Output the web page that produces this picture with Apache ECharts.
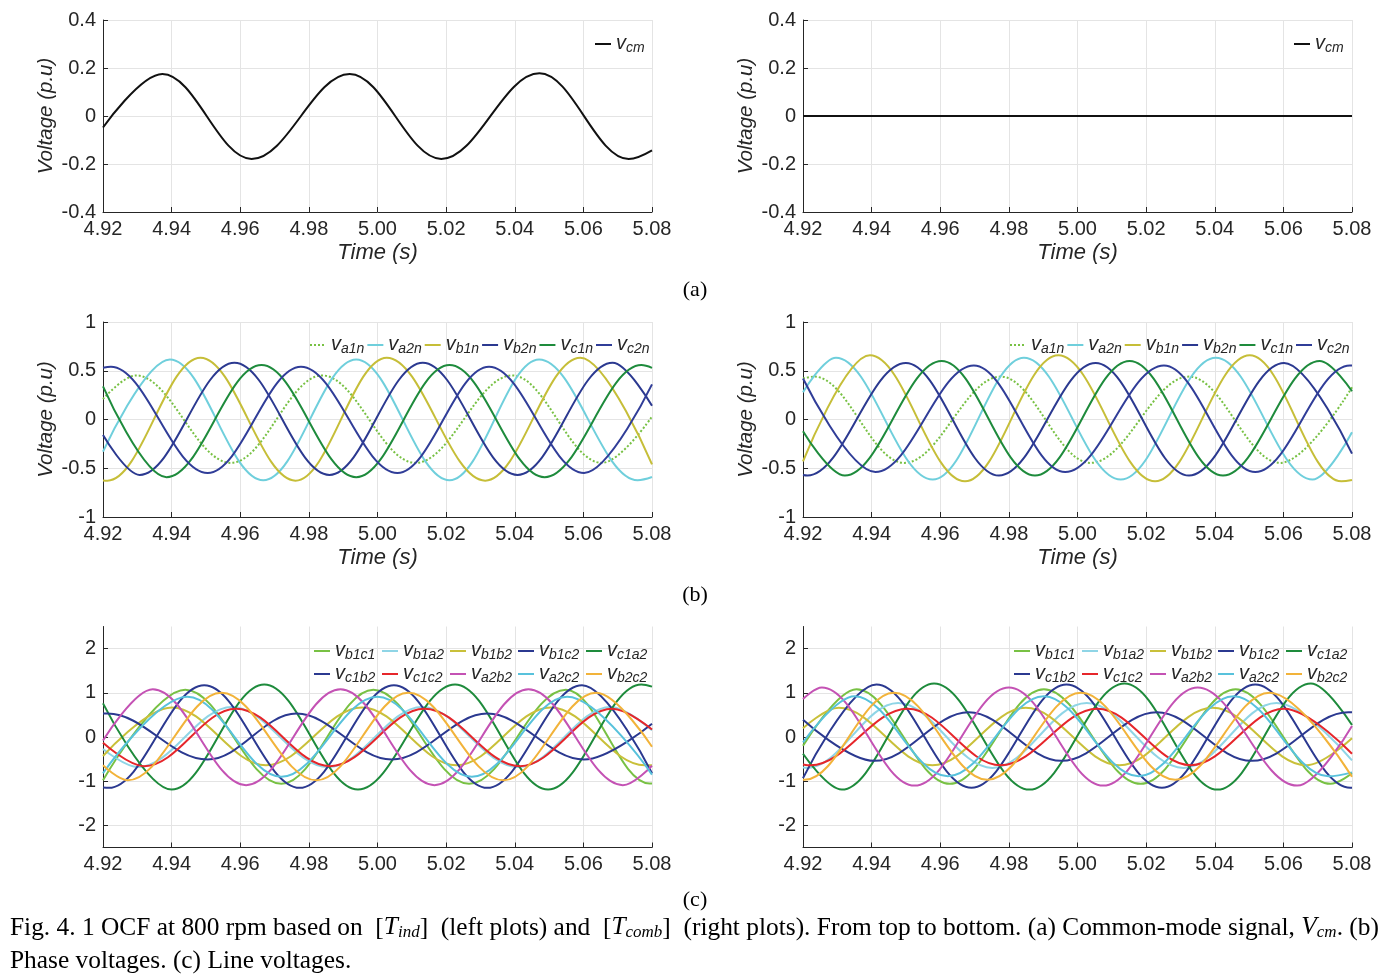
<!DOCTYPE html>
<html><head><meta charset="utf-8">
<script src="https://cdn.jsdelivr.net/npm/echarts@6/dist/echarts.min.js"></script>
<style>html,body{margin:0;padding:0;background:#fff}#c{width:1398px;height:977px}</style>
</head><body><div id="c"></div>
<script>
// ---------- DATA (time s, voltage p.u.): start, peaks/troughs, end ----------
// (a) common-mode voltage
const aL_cm = [[4.92,-0.048],[4.9373,0.175],[4.9633,-0.179],[4.9919,0.175],[5.0186,-0.179],[5.0472,0.178],[5.0732,-0.179],[5.08,-0.143]];
const aR_cm = [[4.92,0],[5.08,0]];
// (b) phase voltages, left
const bL_a1n = [[4.92,0.21],[4.9296,0.452],[4.9573,-0.445],[4.9839,0.452],[5.0111,-0.445],[5.0393,0.452],[5.0654,-0.445],[5.08,0.03]];
const bL_a2n = [[4.92,-0.33],[4.9395,0.616],[4.9667,-0.623],[4.9938,0.616],[5.0210,-0.623],[5.0471,0.616],[5.0758,-0.623],[5.08,-0.59]];
const bL_b1n = [[4.92,-0.625],[4.9213,-0.627],[4.9484,0.634],[4.9761,-0.627],[5.0027,0.634],[5.0314,-0.627],[5.0591,0.634],[5.08,-0.46]];
const bL_b2n = [[4.92,-0.16],[4.9307,-0.568],[4.9583,0.582],[4.9860,-0.568],[5.0132,0.582],[5.0408,-0.568],[5.0685,0.582],[5.08,0.14]];
const bL_c1n = [[4.92,0.34],[4.9385,-0.592],[4.9662,0.558],[4.9938,-0.592],[5.0210,0.558],[5.0487,-0.592],[5.0769,0.558],[5.08,0.53]];
const bL_c2n = [[4.92,0.53],[4.9223,0.541],[4.9505,-0.548],[4.9777,0.541],[5.0058,-0.548],[5.0325,0.541],[5.0602,-0.548],[5.08,0.36]];
// (b) phase voltages, right
const bR_a1n = [[4.92,0.42],[4.9233,0.44],[4.9495,-0.445],[4.9776,0.44],[5.0038,-0.445],[5.0325,0.44],[5.0591,-0.445],[5.08,0.33]];
const bR_a2n = [[4.92,0.28],[4.9296,0.634],[4.9578,-0.616],[4.9844,0.634],[5.0126,-0.616],[5.0403,0.634],[5.0685,-0.616],[5.08,-0.13]];
const bR_b1n = [[4.92,-0.43],[4.9395,0.658],[4.9672,-0.634],[4.9944,0.658],[5.0226,-0.634],[5.0502,0.658],[5.0769,-0.634],[5.08,-0.62]];
const bR_b2n = [[4.92,-0.57],[4.9213,-0.575],[4.9500,0.58],[4.9771,-0.575],[5.0053,0.58],[5.0325,-0.575],[5.0602,0.58],[5.08,-0.35]];
const bR_c1n = [[4.92,-0.12],[4.9322,-0.575],[4.9604,0.60],[4.9876,-0.575],[5.0152,0.60],[5.0424,-0.575],[5.0706,0.60],[5.08,0.29]];
const bR_c2n = [[4.92,0.42],[4.9411,-0.538],[4.9698,0.555],[4.9964,-0.538],[5.0252,0.555],[5.0518,-0.538],[5.0794,0.555],[5.08,0.555]];
// (c) line voltages, left
const cL_b1c1 = [[4.92,-0.98],[4.9440,1.07],[4.9720,-1.06],[4.9988,1.07],[5.0267,-1.06],[5.0549,1.07],[5.0793,-1.05],[5.08,-1.05]];
const cL_b1a2 = [[4.92,-0.27],[4.9302,-0.68],[4.9576,0.68],[4.9856,-0.68],[5.0130,0.68],[5.0410,-0.68],[5.0680,0.68],[5.08,0.15]];
const cL_b1b2 = [[4.92,-0.43],[4.9400,0.67],[4.9675,-0.64],[4.9955,0.67],[5.0230,-0.64],[5.0505,0.67],[5.0779,-0.64],[5.08,-0.64]];
const cL_b1c2 = [[4.92,-1.14],[4.9217,-1.15],[4.9495,1.17],[4.9773,-1.15],[5.0048,1.17],[5.0320,-1.15],[5.0596,1.17],[5.08,-0.82]];
const cL_c1a2 = [[4.92,0.76],[4.9400,-1.19],[4.9670,1.19],[4.9943,-1.19],[5.0226,1.19],[5.0497,-1.19],[5.0769,1.19],[5.08,1.14]];
const cL_c1b2 = [[4.92,0.53],[4.9213,0.53],[4.9505,-0.51],[4.9764,0.53],[5.0041,-0.51],[5.0320,0.53],[5.0602,-0.51],[5.08,0.30]];
const cL_c1c2 = [[4.92,-0.13],[4.9320,-0.66],[4.9588,0.64],[4.9862,-0.66],[5.0137,0.64],[5.0415,-0.66],[5.0685,0.64],[5.08,0.17]];
const cL_a2b2 = [[4.92,-0.08],[4.9345,1.08],[4.9617,-1.09],[4.9892,1.08],[5.0166,-1.09],[5.0440,1.08],[5.0715,-1.09],[5.08,-0.65]];
const cL_a2c2 = [[4.92,-0.82],[4.9446,0.91],[4.9720,-0.90],[5.0000,0.91],[5.0275,-0.90],[5.0553,0.91],[5.08,-0.85]];
const cL_b2c2 = [[4.92,-0.64],[4.9272,-0.98],[4.9545,1.0],[4.9822,-0.98],[5.0090,1.0],[5.0367,-0.98],[5.0638,1.0],[5.08,-0.22]];
// (c) line voltages, right
const cR_b1c1 = [[4.92,-0.20],[4.9356,1.08],[4.9628,-1.06],[4.9902,1.08],[5.0184,-1.06],[5.0461,1.08],[5.0737,-1.06],[5.08,-0.82]];
const cR_b1a2 = [[4.92,-0.69],[4.9212,-0.70],[4.9477,0.77],[4.9752,-0.70],[5.0027,0.77],[5.0309,-0.70],[5.0580,0.77],[5.08,-0.53]];
const cR_b1b2 = [[4.92,0.20],[4.9304,0.66],[4.9577,-0.64],[4.9849,0.66],[5.0122,-0.64],[5.0394,0.66],[5.0667,-0.64],[5.08,-0.03]];
const cR_b1c2 = [[4.92,-0.93],[4.9414,1.19],[4.9691,-1.15],[4.9968,1.19],[5.0246,-1.15],[5.0518,1.19],[5.0795,-1.15],[5.08,-1.15]];
const cR_c1a2 = [[4.92,-0.38],[4.9313,-1.19],[4.9582,1.21],[4.9860,-1.19],[5.0137,1.21],[5.0408,-1.19],[5.0680,1.21],[5.08,0.27]];
const cR_c1b2 = [[4.92,0.39],[4.9408,-0.54],[4.9683,0.56],[4.9953,-0.54],[5.0231,0.56],[5.0508,-0.54],[5.0789,0.56],[5.08,0.56]];
const cR_c1c2 = [[4.92,-0.62],[4.9222,-0.64],[4.9505,0.64],[4.9776,-0.64],[5.0058,0.64],[5.0330,-0.64],[5.0602,0.64],[5.08,-0.38]];
const cR_a2b2 = [[4.92,0.86],[4.9255,1.12],[4.9525,-1.10],[4.9800,1.12],[5.0075,-1.10],[5.0350,1.12],[5.0640,-1.10],[5.08,0.25]];
const cR_a2c2 = [[4.92,-0.12],[4.9350,0.92],[4.9622,-0.89],[4.9902,0.92],[5.0178,-0.89],[5.0455,0.92],[5.0731,-0.89],[5.08,-0.80]];
const cR_b2c2 = [[4.92,-0.97],[4.9205,-0.97],[4.9465,1.0],[4.9737,-0.97],[5.0010,1.0],[5.0285,-0.97],[5.0560,1.0],[5.08,-0.90]];

// tick labels / legend labels
const yTicksC = [-2,-1,0,1,2];
const legendB = ['a1n','a2n','b1n','b2n','c1n','c2n'];
const legendC1 = ['b1c1','b1a2','b1b2','b1c2','c1a2'];
const legendC2 = ['c1b2','c1c2','a2b2','a2c2','b2c2'];

// ---------- STYLE ----------
const FONT = '"Liberation Sans", Arial, sans-serif';
const SERIF = '"Liberation Serif", "Times New Roman", serif';
const INK = '#262626';
const GRIDC = '#e4e4e4';
const COL = {
  a1n:'#78c144', a2n:'#6fcfdc', b1n:'#c6be38', b2n:'#2b3990', c1n:'#1e8b3c', c2n:'#303d98',
  b1c1:'#78c144', b1a2:'#8fd5e6', b1b2:'#c9c03a', b1c2:'#2b3990', c1a2:'#1e8b3c',
  c1b2:'#2b3990', c1c2:'#e6262b', a2b2:'#c452b4', a2c2:'#58c2dc', b2c2:'#f2b33a'
};

const grids = [
  {left:103, top:20, width:549, height:192},
  {left:803, top:20, width:549, height:192},
  {left:103, top:322, width:549, height:195},
  {left:803, top:322, width:549, height:195},
  {left:103, top:626.5, width:549, height:221},
  {left:803, top:626.5, width:549, height:221}
];

function xAx(i, named) {
  return {
    type:'value', gridIndex:i, min:4.92, max:5.08, interval:0.02,
    axisLine:{show:true, onZero:false, lineStyle:{color:INK, width:1}},
    axisTick:{show:true, inside:true, length:5, lineStyle:{color:INK}},
    axisLabel:{color:INK, fontSize:20, fontFamily:FONT, margin:7, formatter:v => v.toFixed(2)},
    splitLine:{show:true, lineStyle:{color:GRIDC, width:1}},
    name: named ? 'Time (s)' : '', nameLocation:'middle', nameGap:30,
    nameTextStyle:{fontStyle:'italic', fontSize:22, fontFamily:FONT, color:INK}
  };
}
function yAx(i, min, max, interval, named, custom) {
  const ax = {
    type:'value', gridIndex:i, min:min, max:max, interval:interval,
    axisLine:{show:true, onZero:false, lineStyle:{color:INK, width:1}},
    axisTick:{show:true, inside:true, length:5, lineStyle:{color:INK}},
    axisLabel:{color:INK, fontSize:20, fontFamily:FONT, margin:7},
    splitLine:{show:true, lineStyle:{color:GRIDC, width:1}},
    name: named ? 'Voltage (p.u)' : '', nameLocation:'middle', nameGap:47, nameRotate:90,
    nameTextStyle:{fontStyle:'italic', fontSize:20.5, fontFamily:FONT, color:INK}
  };
  if (custom) {
    ax.axisLabel.customValues = custom;
    ax.axisTick.customValues = custom;
    ax.axisLabel.formatter = v => (Math.abs(v - Math.round(v)) < 1e-9 ? String(Math.round(v)) : '');
  }
  return ax;
}

function ser(name, data, gi, color, dotted) {
  return {
    type:'line', name:name, data:data, xAxisIndex:gi, yAxisIndex:gi,
    symbol:'none', smooth:0.364, smoothMonotone:'x', animation:false,
    lineStyle:{color:color, width:2, type: dotted ? [2,2] : 'solid'},
    itemStyle:{color:color}
  };
}

const richLegend = {
  v:{fontSize:20, fontStyle:'italic', fontFamily:FONT, color:INK, lineHeight:22, verticalAlign:'top'},
  s:{fontSize:14, fontStyle:'italic', fontFamily:FONT, color:INK, lineHeight:14, verticalAlign:'bottom', padding:[11,0,0,0]},
  w:{fontSize:14, fontStyle:'italic', fontFamily:FONT, color:INK, lineHeight:14, verticalAlign:'bottom', padding:[11,0,0,0], width:33}
};
function leg(data, left, top, tok, gap) {
  return {
    data:data, left:left, top:top, orient:'horizontal', padding:0,
    itemWidth:16, itemHeight:14, itemGap:gap, selectedMode:false,
    formatter: n => '{v|v}{' + tok + '|' + n + '}',
    textStyle:{rich:richLegend}, itemStyle:{opacity:0}
  };
}

const series = [
  ser('cm', aL_cm, 0, '#111111'),
  ser('cm', aR_cm, 1, '#111111'),
  ser('a1n', bL_a1n, 2, COL.a1n, true), ser('a2n', bL_a2n, 2, COL.a2n), ser('b1n', bL_b1n, 2, COL.b1n),
  ser('b2n', bL_b2n, 2, COL.b2n), ser('c1n', bL_c1n, 2, COL.c1n), ser('c2n', bL_c2n, 2, COL.c2n),
  ser('a1n', bR_a1n, 3, COL.a1n, true), ser('a2n', bR_a2n, 3, COL.a2n), ser('b1n', bR_b1n, 3, COL.b1n),
  ser('b2n', bR_b2n, 3, COL.b2n), ser('c1n', bR_c1n, 3, COL.c1n), ser('c2n', bR_c2n, 3, COL.c2n),
  ser('b1c1', cL_b1c1, 4, COL.b1c1), ser('b1a2', cL_b1a2, 4, COL.b1a2), ser('b1b2', cL_b1b2, 4, COL.b1b2),
  ser('b1c2', cL_b1c2, 4, COL.b1c2), ser('c1a2', cL_c1a2, 4, COL.c1a2), ser('c1b2', cL_c1b2, 4, COL.c1b2),
  ser('c1c2', cL_c1c2, 4, COL.c1c2), ser('a2b2', cL_a2b2, 4, COL.a2b2), ser('a2c2', cL_a2c2, 4, COL.a2c2),
  ser('b2c2', cL_b2c2, 4, COL.b2c2),
  ser('b1c1', cR_b1c1, 5, COL.b1c1), ser('b1a2', cR_b1a2, 5, COL.b1a2), ser('b1b2', cR_b1b2, 5, COL.b1b2),
  ser('b1c2', cR_b1c2, 5, COL.b1c2), ser('c1a2', cR_c1a2, 5, COL.c1a2), ser('c1b2', cR_c1b2, 5, COL.c1b2),
  ser('c1c2', cR_c1c2, 5, COL.c1c2), ser('a2b2', cR_a2b2, 5, COL.a2b2), ser('a2c2', cR_a2c2, 5, COL.a2c2),
  ser('b2c2', cR_b2c2, 5, COL.b2c2)
];

const capRich = {
  i:{fontSize:25.4, fontStyle:'italic', fontFamily:SERIF, color:'#000', lineHeight:27, verticalAlign:'top'},
  sub:{fontSize:17, fontStyle:'italic', fontFamily:SERIF, color:'#000', lineHeight:17, verticalAlign:'bottom', padding:[13,0,0,0]}
};

const option = {
  backgroundColor:'#ffffff',
  animation:false,
  grid: grids,
  xAxis: [xAx(0,true), xAx(1,true), xAx(2,true), xAx(3,true), xAx(4,false), xAx(5,false)],
  yAxis: [
    yAx(0,-0.4,0.4,0.2,true), yAx(1,-0.4,0.4,0.2,true),
    yAx(2,-1,1,0.5,true), yAx(3,-1,1,0.5,true),
    yAx(4,-2.5,2.5,0.5,false,yTicksC), yAx(5,-2.5,2.5,0.5,false,yTicksC)
  ],
  legend: [
    leg(['cm'], 594, 30, 's', 4),
    leg(['cm'], 1293, 30, 's', 4),
    leg(legendB, 309, 331, 's', 2),
    leg(legendB, 1009, 331, 's', 2),
    leg(legendC1, 313, 637, 'w', 3),
    leg(legendC2, 313, 660, 'w', 3),
    leg(legendC1, 1013, 637, 'w', 3),
    leg(legendC2, 1013, 660, 'w', 3)
  ],
  series: series,
  graphic: [
    {type:'text', x:695, y:290, style:{text:'(a)', fontFamily:SERIF, fontSize:22, fill:'#000', align:'center', verticalAlign:'middle'}},
    {type:'text', x:695, y:595, style:{text:'(b)', fontFamily:SERIF, fontSize:22, fill:'#000', align:'center', verticalAlign:'middle'}},
    {type:'text', x:695, y:900, style:{text:'(c)', fontFamily:SERIF, fontSize:22, fill:'#000', align:'center', verticalAlign:'middle'}},
    {type:'text', x:10, y:928, style:{
      text:'Fig. 4. 1 OCF at 800 rpm based on  [{i|T}{sub|ind}]  (left plots) and  [{i|T}{sub|comb}]  (right plots). From top to bottom. (a) Common-mode signal, {i|V}{sub|cm}. (b)',
      rich:capRich, fontFamily:SERIF, fontSize:25.4, fill:'#000', align:'left', verticalAlign:'middle'}},
    {type:'text', x:10, y:961, style:{text:'Phase voltages. (c) Line voltages.', fontFamily:SERIF, fontSize:25.4, fill:'#000', align:'left', verticalAlign:'middle'}}
  ]
};

const chart = echarts.init(document.getElementById('c'), null, {renderer:'canvas', width:1398, height:977});
chart.setOption(option);
</script></body></html>
